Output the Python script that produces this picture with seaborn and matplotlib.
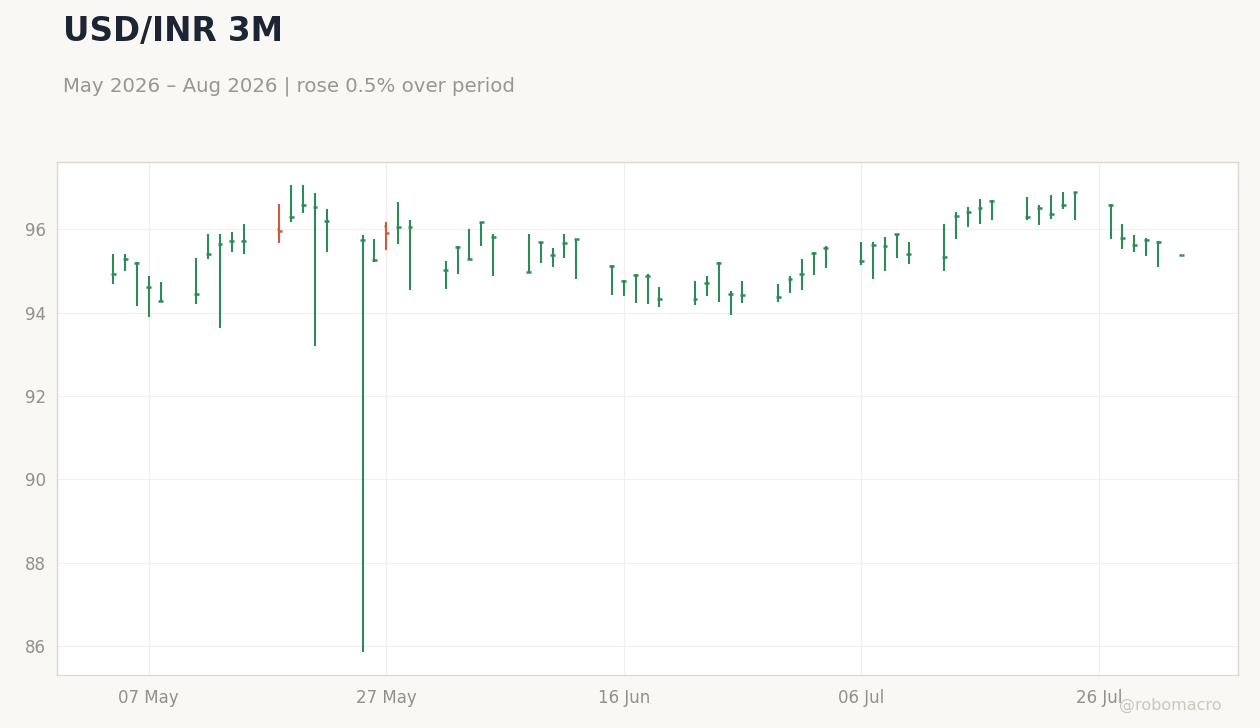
### USD/INR 3M daily range chart ###

import pandas as pd
import numpy as np
import matplotlib
matplotlib.use("Agg")
import matplotlib.pyplot as plt
import matplotlib.dates as mdates
import seaborn as sns

# trading days
dates = [
    "2026-05-04", "2026-05-05", "2026-05-06", "2026-05-07", "2026-05-08",
    "2026-05-11", "2026-05-12", "2026-05-13", "2026-05-14", "2026-05-15",
    "2026-05-18", "2026-05-19", "2026-05-20", "2026-05-21", "2026-05-22",
    "2026-05-25", "2026-05-26", "2026-05-27", "2026-05-28", "2026-05-29",
    "2026-06-01", "2026-06-02", "2026-06-03", "2026-06-04", "2026-06-05",
    "2026-06-08", "2026-06-09", "2026-06-10", "2026-06-11", "2026-06-12",
    "2026-06-15", "2026-06-16", "2026-06-17", "2026-06-18", "2026-06-19",
    "2026-06-22", "2026-06-23", "2026-06-24", "2026-06-25", "2026-06-26",
    "2026-06-29", "2026-06-30", "2026-07-01", "2026-07-02", "2026-07-03",
    "2026-07-06", "2026-07-07", "2026-07-08", "2026-07-09", "2026-07-10",
    "2026-07-13", "2026-07-14", "2026-07-15", "2026-07-16", "2026-07-17",
    "2026-07-20", "2026-07-21", "2026-07-22", "2026-07-23", "2026-07-24",
    "2026-07-27", "2026-07-28", "2026-07-29", "2026-07-30", "2026-07-31",
    "2026-08-02",
]

highs = [
    95.40, 95.40, 95.22, 94.89, 94.74,
    95.32, 95.88, 95.88, 95.95, 96.12,
    96.60, 97.06, 97.06, 96.87, 96.50,
    95.86, 95.78, 96.19, 96.67, 96.22,
    95.25, 95.60, 96.00, 96.18, 95.90,
    95.90, 95.71, 95.56, 95.88, 95.78,
    95.14, 94.78, 94.94, 94.94, 94.61,
    94.77, 94.89, 95.21, 94.53, 94.77,
    94.70, 94.89, 95.28, 95.47, 95.61,
    95.69, 95.69, 95.81, 95.90, 95.69,
    96.12, 96.43, 96.55, 96.72, 96.70,
    96.77, 96.58, 96.82, 96.89, 96.91,
    96.60, 96.14, 95.86, 95.79, 95.72,
    95.38,
]

lows = [
    94.68, 95.00, 94.16, 93.89, 94.26,
    94.20, 95.28, 93.63, 95.45, 95.40,
    95.67, 96.18, 96.39, 93.19, 95.45,
    85.86, 95.22, 95.50, 95.65, 94.54,
    94.58, 94.94, 95.26, 95.60, 94.88,
    94.96, 95.19, 95.09, 95.31, 94.81,
    94.42, 94.40, 94.23, 94.20, 94.13,
    94.18, 94.40, 94.25, 93.94, 94.23,
    94.25, 94.47, 94.54, 94.90, 95.07,
    95.14, 94.81, 95.00, 95.31, 95.17,
    95.00, 95.77, 96.06, 96.13, 96.22,
    96.22, 96.10, 96.25, 96.49, 96.22,
    95.77, 95.53, 95.45, 95.36, 95.09,
    95.38,
]

opens = [
    94.92, 95.28, 95.20, 94.61, 94.27,
    94.44, 95.40, 95.65, 95.72, 95.72,
    96.00, 96.30, 96.58, 96.54, 96.20,
    95.74, 95.26, 96.08, 96.06, 96.06,
    95.02, 95.57, 95.28, 96.17, 95.81,
    94.97, 95.70, 95.38, 95.67, 95.77,
    95.12, 94.77, 94.90, 94.88, 94.34,
    94.34, 94.71, 95.19, 94.45, 94.42,
    94.37, 94.81, 94.92, 95.43, 95.55,
    95.24, 95.62, 95.60, 95.88, 95.41,
    95.33, 96.32, 96.43, 96.51, 96.68,
    96.30, 96.51, 96.37, 96.58, 96.90,
    96.58, 95.79, 95.62, 95.74, 95.69,
    95.38,
]

closes = [
    94.92, 95.28, 95.20, 94.61, 94.27,
    94.44, 95.40, 95.65, 95.72, 95.72,
    95.97, 96.30, 96.58, 96.54, 96.20,
    95.74, 95.26, 95.91, 96.06, 96.06,
    95.02, 95.57, 95.28, 96.17, 95.81,
    94.97, 95.70, 95.38, 95.67, 95.77,
    95.12, 94.77, 94.90, 94.88, 94.34,
    94.34, 94.71, 95.19, 94.45, 94.42,
    94.37, 94.81, 94.92, 95.43, 95.55,
    95.24, 95.62, 95.60, 95.88, 95.41,
    95.33, 96.32, 96.43, 96.51, 96.68,
    96.30, 96.51, 96.37, 96.58, 96.90,
    96.58, 95.79, 95.62, 95.74, 95.69,
    95.38,
]

tick_dates = ["2026-05-07", "2026-05-27", "2026-06-16", "2026-07-06", "2026-07-26"]
y_ticks = [86, 88, 90, 92, 94, 96]

# colours
up_color = "#2e8b57"
down_color = "#cc5b3d"
bg_color = "#f9f8f5"
text_gray = "#948f87"

# build data frame
ohlc = pd.DataFrame({
    "date": pd.to_datetime(dates),
    "open": opens,
    "high": highs,
    "low": lows,
    "close": closes,
})
ohlc["dir"] = np.where(ohlc["close"] >= ohlc["open"], "up", "down")

# long format for the high-low stems, one unit per day
stems = pd.concat([
    ohlc[["date", "dir"]].assign(price=ohlc["high"]),
    ohlc[["date", "dir"]].assign(price=ohlc["low"]),
])

sns.set_theme(style="white")
plt.rcParams["font.family"] = ["DejaVu Sans"]

fig = plt.figure(figsize=(12.6, 7.28), dpi=100, facecolor=bg_color)
ax = fig.add_axes([57 / 1260, 1 - 675 / 728, (1238 - 57) / 1260, (675 - 162) / 728])
ax.set_facecolor("white")

sns.lineplot(data=stems, x="date", y="price", hue="dir", units="date",
             estimator=None, palette={"up": up_color, "down": down_color},
             linewidth=1.5, legend=False, sort=True, ax=ax)
for line in ax.get_lines():
    line.set_solid_capstyle("butt")

# open tick to the left, close tick to the right
half = pd.Timedelta(hours=5)
colors = np.where(ohlc["dir"] == "up", up_color, down_color)
ax.hlines(ohlc["open"], ohlc["date"] - half, ohlc["date"], colors=colors, linewidth=1.8)
ax.hlines(ohlc["close"], ohlc["date"], ohlc["date"] + half, colors=colors, linewidth=1.8)

# axes styling
ax.set_xticks(pd.to_datetime(tick_dates))
ax.xaxis.set_major_formatter(mdates.DateFormatter("%d %b"))
ax.set_yticks(y_ticks)
ax.set_xlabel("")
ax.set_ylabel("")
ax.grid(True, color="#efefef", linewidth=0.8)
ax.set_axisbelow(True)
for spine in ax.spines.values():
    spine.set_color("#ddd8d0")
    spine.set_linewidth(1)
ax.tick_params(axis="x", colors="#c9c5bd", length=4, width=1, labelsize=12,
               labelcolor=text_gray, pad=6)
ax.tick_params(axis="y", length=0, labelsize=12, labelcolor=text_gray, pad=8)

# titles
fig.text(63 / 1260, 1 - 41 / 728, "USD/INR 3M", fontsize=23.5, fontweight="bold",
         color="#1b2535", va="baseline")
fig.text(63 / 1260, 1 - 92 / 728, "May 2026 \u2013 Aug 2026 | rose 0.5% over period",
         fontsize=14.2, color="#9a9690", va="baseline")
fig.text(1222 / 1260, 1 - 710 / 728, "@robomacro", fontsize=11.5, color="#cbc7bf",
         ha="right", va="baseline")

fig.savefig("out.png", dpi=100, facecolor=bg_color)
